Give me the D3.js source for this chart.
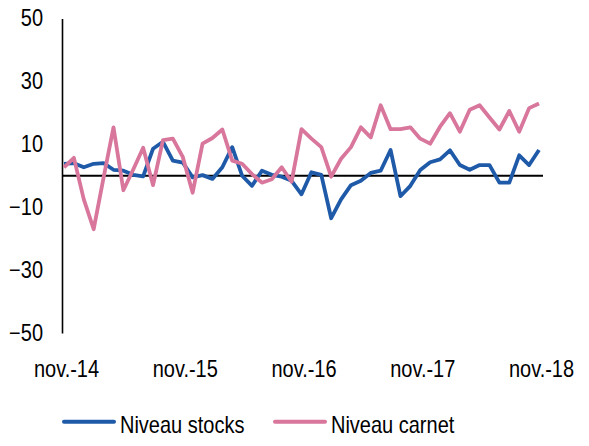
<!DOCTYPE html>
<html>
<head>
<meta charset="utf-8">
<script src="https://cdn.jsdelivr.net/npm/d3@7"></script>
<style>
  html, body { margin: 0; padding: 0; background: #fff; }
  svg { display: block; }
  text { font-family: "Liberation Sans", Arial, sans-serif; font-size: 20px; fill: #000; }
</style>
</head>
<body>
<svg id="chart" width="589" height="446"></svg>
<script>
const months = [
  "nov.-14","déc.-14","janv.-15","févr.-15","mars-15","avr.-15","mai-15","juin-15","juil.-15","août-15","sept.-15","oct.-15",
  "nov.-15","déc.-15","janv.-16","févr.-16","mars-16","avr.-16","mai-16","juin-16","juil.-16","août-16","sept.-16","oct.-16",
  "nov.-16","déc.-16","janv.-17","févr.-17","mars-17","avr.-17","mai-17","juin-17","juil.-17","août-17","sept.-17","oct.-17",
  "nov.-17","déc.-17","janv.-18","févr.-18","mars-18","avr.-18","mai-18","juin-18","juil.-18","août-18","sept.-18","oct.-18",
  "nov.-18"
];
const niveauStocks = [
  3.8, 4, 2.7, 3.8, 4, 1.9, 1.6, 0.3, -0.2, 8.6, 10.8, 4.8,
  4.2, -0.5, 0.2, -1, 2.7, 9.1, 0, -3.2, 1.6, 0.3, -0.3, -1.6,
  -5.9, 1.1, 0.3, -13.5, -7.5, -3, -1.6, 0.9, 1.6, 8.2, -6.5, -3.2,
  1.8, 4.3, 5.2, 8.1, 3.4, 1.9, 3.4, 3.4, -2.2, -2.2, 6.5, 3.4,
  8.2
];
const niveauCarnet = [
  2.7, 5.7, -7.5, -17, -0.6, 15.4, -4.6, 2, 8.9, -3, 11.3, 11.8,
  6, -5.4, 10.2, 12, 14.7, 4.8, 3.8, 0.5, -2.2, -1.1, 2.7, -1.9,
  14.8, 11.8, 9.1, -0.3, 5.4, 9.1, 15.4, 12.2, 22.4, 14.8, 14.8, 15.4,
  11.8, 10.2, 15.6, 19.9, 14, 21, 22.4, 18.5, 14.7, 20.6, 14, 21.5,
  23
];
const xTickLabels = ["nov.-14","nov.-15","nov.-16","nov.-17","nov.-18"];
const yTickValues = [50, 30, 10, -10, -30, -50];
const seriesNames = ["Niveau stocks", "Niveau carnet"];
const seriesColors = ["#1f5aa8", "#d8769b"];

const svg = d3.select("#chart");
const stretch = "scale(1,1.17)";

const x = d3.scalePoint().domain(months).range([64, 539]);
const y = d3.scaleLinear().domain([-50, 50]).range([333, 18.5]);

// Y axis
const yAxis = svg.append("g")
  .attr("transform", "translate(62,0)")
  .call(d3.axisLeft(y).tickValues(yTickValues).tickSize(0).tickSizeOuter(0).tickPadding(19).tickFormat(d3.format("d")));
yAxis.select(".domain").attr("stroke", "#000").attr("stroke-width", 1.6);
yAxis.selectAll("text")
  .style("font-family", "'Liberation Sans', Arial, sans-serif")
  .style("font-size", "20px")
  .attr("x", -19).attr("dy", 0)
  .attr("transform", "translate(0,7) " + stretch);

// zero line
svg.append("line")
  .attr("x1", 62).attr("x2", 543)
  .attr("y1", y(0)).attr("y2", y(0))
  .attr("stroke", "#000").attr("stroke-width", 1.8);

// X axis labels
const xAxis = svg.append("g")
  .attr("transform", "translate(0,360)")
  .call(d3.axisBottom(x).tickValues(xTickLabels).tickSize(0).tickSizeOuter(0));
xAxis.select(".domain").remove();
xAxis.selectAll("text")
  .style("font-family", "'Liberation Sans', Arial, sans-serif")
  .style("font-size", "20px")
  .attr("y", 0).attr("dy", 0)
  .attr("transform", "translate(2,17) " + stretch);

// Lines
const line = d3.line().x((d, i) => x(months[i])).y(d => y(d));
[niveauStocks, niveauCarnet].forEach((vals, k) => {
  svg.append("path")
    .datum(vals)
    .attr("fill", "none")
    .attr("stroke", seriesColors[k])
    .attr("stroke-width", 3.8)
    .attr("stroke-linejoin", "round")
    .attr("d", line);
});

// Legend
const legendItems = [{x: 64}, {x: 275}];
legendItems.forEach((it, k) => {
  const g = svg.append("g").attr("transform", `translate(${it.x},0)`);
  g.append("line")
    .attr("x1", 0).attr("x2", 50)
    .attr("y1", 421.7).attr("y2", 421.7)
    .attr("stroke", seriesColors[k]).attr("stroke-width", 4)
    .attr("stroke-linecap", "round");
  g.append("g").attr("transform", "translate(56,433)")
    .append("text")
    .attr("transform", stretch)
    .text(seriesNames[k]);
});
</script>
</body>
</html>
